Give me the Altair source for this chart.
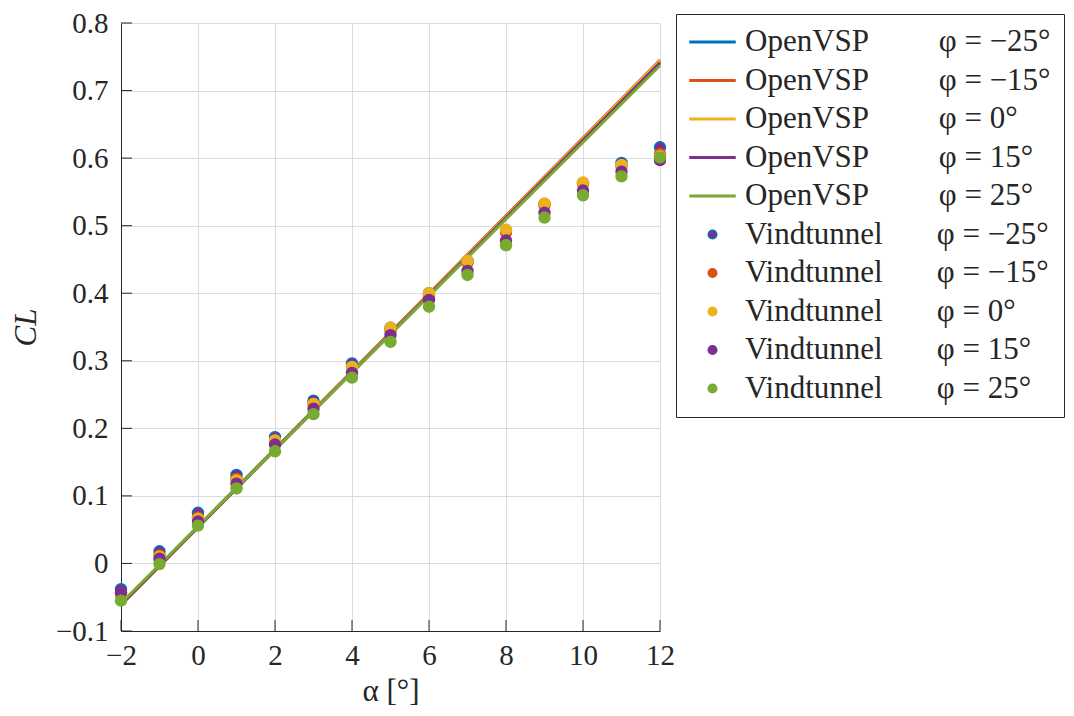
import altair as alt
import pandas as pd

# ---------------- data ----------------
alpha = [-2, -1, 0, 1, 2, 3, 4, 5, 6, 7, 8, 9, 10, 11, 12]
phi = ["−25", "−15", "0", "15", "25"]

line_colors = ["#0072BD", "#D95319", "#EDB120", "#7E2F8E", "#77AC30"]
pt_face = ["#7E2F8E", "#D95319", "#EDB120", "#7E2F8E", "#77AC30"]
pt_edge = ["#0072BD", "#D95319", "#EDB120", "#7E2F8E", "#77AC30"]

# OpenVSP (straight lines, endpoints)
line_alpha = [-2, 12]
vsp_m25 = [-0.060, 0.743]
vsp_m15 = [-0.061, 0.745]
vsp_0 = [-0.062, 0.744]
vsp_15 = [-0.061, 0.741]
vsp_25 = [-0.059, 0.737]

# Vindtunnel (wind tunnel measurements)
wt_m25 = [-0.038, 0.018, 0.075, 0.131, 0.187, 0.241, 0.296, 0.349, 0.400, 0.448, 0.493, 0.532, 0.563, 0.593, 0.616]
wt_m15 = [-0.045, 0.012, 0.068, 0.125, 0.182, 0.236, 0.291, 0.345, 0.396, 0.445, 0.490, 0.530, 0.562, 0.588, 0.606]
wt_0 = [-0.047, 0.010, 0.066, 0.123, 0.182, 0.236, 0.291, 0.349, 0.400, 0.448, 0.494, 0.533, 0.564, 0.590, 0.603]
wt_15 = [-0.043, 0.007, 0.062, 0.118, 0.176, 0.229, 0.282, 0.338, 0.390, 0.433, 0.478, 0.519, 0.552, 0.580, 0.597]
wt_25 = [-0.055, -0.001, 0.056, 0.111, 0.166, 0.221, 0.275, 0.328, 0.380, 0.427, 0.471, 0.512, 0.545, 0.573, 0.601]

xticks = [-2, 0, 2, 4, 6, 8, 10, 12]
yticks = [-0.1, 0.0, 0.1, 0.2, 0.3, 0.4, 0.5, 0.6, 0.7, 0.8]

NB = "\u00a0"
line_keys = ["OpenVSP" + NB * 9 + "φ" + NB + "=" + NB + p + "°" for p in phi]
pt_keys = ["Vindtunnel" + NB * 7 + "φ" + NB + "=" + NB + p + "°" for p in phi]
all_keys = line_keys + pt_keys

vsp_series = [vsp_m25, vsp_m15, vsp_0, vsp_15, vsp_25]
wt_series = [wt_m25, wt_m15, wt_0, wt_15, wt_25]

line_rows = []
for k, s in zip(line_keys, vsp_series):
    for a, v in zip(line_alpha, s):
        line_rows.append({"key": k, "alpha": a, "cl": v})
line_df = pd.DataFrame(line_rows)

pt_rows = []
for i, (k, s) in enumerate(zip(pt_keys, wt_series)):
    for a, v in zip(alpha, s):
        pt_rows.append({"key": k, "alpha": a, "cl": v, "order": i})
pt_df = pd.DataFrame(pt_rows)

ytick_df = pd.DataFrame({"v": yticks})
xtick_df = pd.DataFrame({"v": xticks})

# ---------------- styling ----------------
FONT = "Liberation Serif"
DARK = "#262626"
GRID = "#dcdcdc"

H = 0.036
LINE_PATH = f"M-1,-{H}L1,-{H}L1,{H}L-1,{H}Z"
R = 0.19
CIRCLE_PATH = f"M{R},0A{R},{R},0,1,1,-{R},0A{R},{R},0,1,1,{R},0Z"

x_scale = alt.Scale(domain=[-2, 12], nice=False, zero=False)
y_scale = alt.Scale(domain=[-0.1, 0.8], nice=False, zero=False)

x_axis = alt.Axis(
    values=xticks, title="α [°]", grid=True, gridColor=GRID, gridWidth=1,
    ticks=False, tickSize=0, domainColor=DARK, domainWidth=1,
    labelFont=FONT, labelFontSize=29, labelColor=DARK, labelPadding=10,
    labelFlush=False, labelOverlap=False,
    titleFont=FONT, titleFontSize=31, titleColor=DARK, titleFontWeight="normal",
    titleY=60, titleBaseline="middle",
)
y_axis = alt.Axis(
    values=yticks, title="CL", grid=True, gridColor=GRID, gridWidth=1,
    ticks=False, tickSize=0, domainColor=DARK, domainWidth=1,
    labelFont=FONT, labelFontSize=29, labelColor=DARK, labelPadding=13,
    labelFlush=False, labelOverlap=False,
    labelExpr="abs(datum.value) < 1e-9 ? '0' : format(datum.value, '.1f')",
    titleFont=FONT, titleFontSize=31, titleColor=DARK, titleFontWeight="normal",
    titleFontStyle="italic", titleX=-95, titleY=304, titleBaseline="middle",
    titleAngle=270,
)

X = alt.X("alpha:Q", scale=x_scale, axis=x_axis)
Y = alt.Y("cl:Q", scale=y_scale, axis=y_axis)

legend = alt.Legend(
    title=None, orient="none", legendX=555, legendY=-9,
    fillColor="white", strokeColor=DARK, padding=13, cornerRadius=0,
    labelFont=FONT, labelFontSize=31, labelColor=DARK, labelLimit=500,
    labelOffset=9, symbolSize=2025, symbolStrokeWidth=1.5, symbolOpacity=1,
    clipHeight=30, rowPadding=7.5,
)

lines = alt.Chart(line_df).mark_line(strokeWidth=3).encode(
    x=X, y=Y,
    color=alt.Color("key:N", scale=alt.Scale(domain=line_keys, range=line_colors), legend=None),
)

points = alt.Chart(pt_df).mark_point(filled=True, size=3300, opacity=1, strokeWidth=1.5).encode(
    x=X, y=Y,
    fill=alt.Fill("key:N", scale=alt.Scale(domain=all_keys, range=line_colors + pt_face), legend=legend),
    stroke=alt.Stroke("key:N", scale=alt.Scale(domain=all_keys, range=line_colors + pt_edge), legend=legend),
    shape=alt.Shape("key:N", scale=alt.Scale(domain=all_keys, range=[LINE_PATH] * 5 + [CIRCLE_PATH] * 5), legend=legend),
    order=alt.Order("order:Q"),
)

ytick_marks = alt.Chart(ytick_df).mark_rule(color=DARK, strokeWidth=1).encode(
    y=alt.Y("v:Q", scale=y_scale), x=alt.value(0), x2=alt.value(11),
)
xtick_marks = alt.Chart(xtick_df).mark_rule(color=DARK, strokeWidth=1).encode(
    x=alt.X("v:Q", scale=x_scale), y=alt.value(608), y2=alt.value(597),
)

chart = alt.layer(lines, ytick_marks, xtick_marks, points).resolve_scale(
    color="independent", fill="independent", stroke="independent", shape="independent"
).properties(
    width=539, height=608,
    padding={"left": 113, "top": 15, "right": 406, "bottom": 77},
    autosize=alt.AutoSizeParams(type="none"),
).configure_view(strokeWidth=0)

chart.save("out.html", embed_options={"renderer": "svg", "actions": False})
